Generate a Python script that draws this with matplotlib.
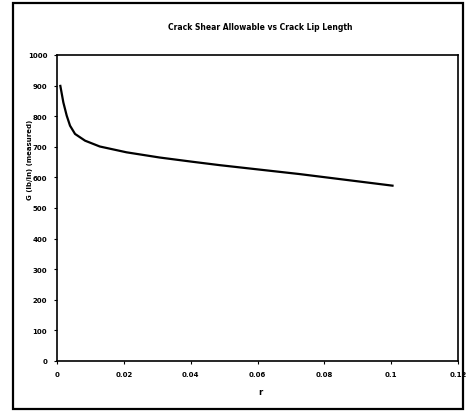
import numpy as np
import matplotlib.pyplot as plt
from matplotlib.patches import Rectangle

# curve
r_vals = [0.001, 0.0019, 0.0029, 0.0039, 0.0054, 0.0084, 0.0128, 0.0208,
          0.0307, 0.0406, 0.0487, 0.0725, 0.1004]
g_vals = [899, 845, 802, 769, 742, 720, 701, 682, 665, 651, 640, 611, 573]

x_ticks = [0, 0.02, 0.04, 0.06, 0.08, 0.1, 0.12]
x_labels = ['0', '0.02', '0.04', '0.06', '0.08', '0.1', '0.12']
y_ticks = list(range(0, 1001, 100))

fig = plt.figure(figsize=(4.66, 4.14), dpi=100)
fig.patches.append(Rectangle((13 / 466, 4 / 414), 450 / 466, 406 / 414,
                             transform=fig.transFigure, fill=False,
                             edgecolor='black', linewidth=1.6))
ax = fig.add_axes([57 / 466, 1 - 362 / 414, 401 / 466, 306 / 414])
ax.plot(r_vals, g_vals, color='black', linewidth=1.6)
ax.set_xlim(0, 0.12)
ax.set_ylim(0, 1000)
ax.set_xticks(x_ticks)
ax.set_xticklabels(x_labels)
ax.set_yticks(y_ticks)
ax.tick_params(labelsize=5, width=0.8, length=2, pad=5)
for lab in ax.get_xticklabels() + ax.get_yticklabels():
    lab.set_fontweight('bold')
for s in ax.spines.values():
    s.set_linewidth(1.2)

fig.text(260 / 466, 1 - 28 / 414, 'Crack Shear Allowable vs Crack Lip Length',
         ha='center', va='center', fontsize=5.5, fontweight='bold')
fig.text(30 / 466, 1 - 160 / 414, 'G (lb/in) (measured)', rotation=90,
         ha='center', va='center', fontsize=5, fontweight='bold')
fig.text(260 / 466, 1 - 393 / 414, 'r', ha='center', va='center',
         fontsize=6, fontweight='bold')

fig.savefig('out.png', dpi=100)
